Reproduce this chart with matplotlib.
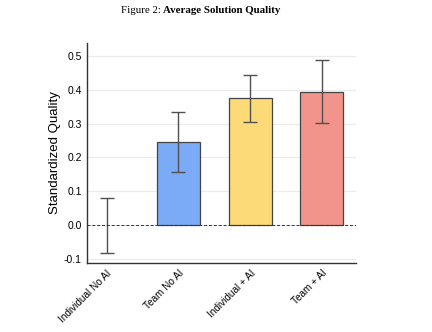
import matplotlib
matplotlib.use("Agg")
import matplotlib.pyplot as plt

plt.rcParams['font.family'] = ['Liberation Sans', 'DejaVu Sans']

groups = ["Individual No AI", "Team No AI", "Individual + AI", "Team + AI"]
means = [0.0, 0.247, 0.375, 0.393]
ci_low = [-0.081, 0.157, 0.306, 0.302]
ci_high = [0.081, 0.334, 0.443, 0.486]
colors = ["none", "#7BAAF7", "#FDDA78", "#F2948B"]

fig = plt.figure(figsize=(4.32, 3.32), dpi=100)
ax = fig.add_axes([0.202, 0.209, 0.621, 0.662])

x = list(range(len(groups)))
err = [[m - lo for m, lo in zip(means, ci_low)],
       [hi - m for m, hi in zip(means, ci_high)]]

for i, (m, c) in enumerate(zip(means, colors)):
    if c != "none":
        ax.bar(i, m, width=0.6, color=c, edgecolor="#444444", linewidth=0.9, zorder=2)
ax.errorbar(x, means, yerr=err, fmt="none", ecolor="#505050", elinewidth=1.0,
            capsize=5, capthick=1.0, zorder=3)

ax.axhline(0, color="#333333", linestyle=(0, (3, 2)), linewidth=0.7, zorder=4)

ax.set_xlim(-0.27, 3.47)
ax.set_ylim(-0.11, 0.538)
ax.set_yticks([-0.1, 0.0, 0.1, 0.2, 0.3, 0.4, 0.5])
ax.set_yticklabels(["-0.1", "0.0", "0.1", "0.2", "0.3", "0.4", "0.5"], fontsize=7.5)
ax.yaxis.grid(True, color="#EBEBEB", linewidth=0.9, zorder=0)
ax.set_axisbelow(True)

ax.set_xticks(x)
ax.set_xticklabels(groups, rotation=45, ha="right", rotation_mode="anchor", fontsize=7.2)
ax.tick_params(length=0, pad=4)
ax.set_ylabel("Standardized Quality", fontsize=9.5, labelpad=2)

for s in ["top", "right"]:
    ax.spines[s].set_visible(False)
for s in ["left", "bottom"]:
    ax.spines[s].set_color("#333333")
    ax.spines[s].set_linewidth(1.0)

fig.text(0.378, 0.967, "Figure 2: ", ha="right", va="center",
         family="Liberation Serif", fontsize=7.8)
fig.text(0.378, 0.967, "Average Solution Quality", ha="left", va="center",
         family="Liberation Serif", fontsize=7.8, fontweight="bold")

fig.savefig("out.png", dpi=100)
